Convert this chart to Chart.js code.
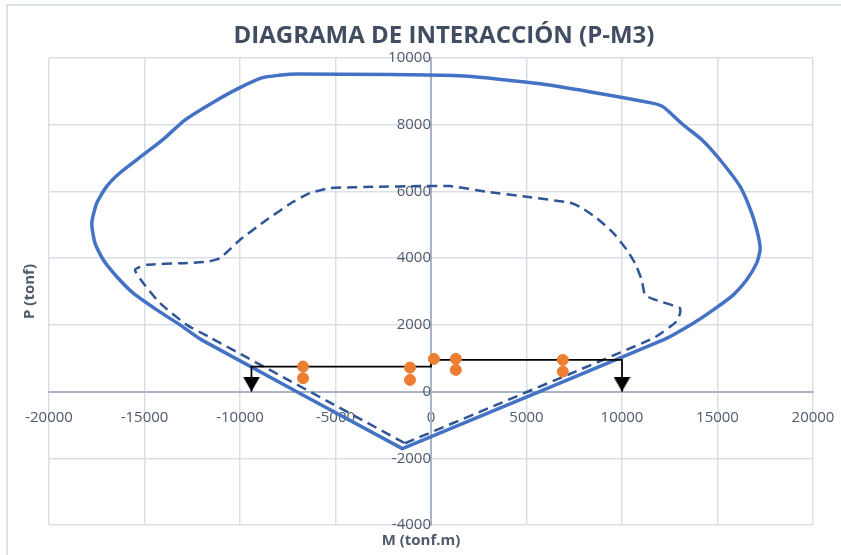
<!DOCTYPE html>
<html lang="es">
<head>
<meta charset="UTF-8">
<title>Diagrama de interacción (P-M3)</title>
<script src="https://cdn.jsdelivr.net/npm/chart.js@4.4.0/dist/chart.umd.min.js"></script>
<style>
    html, body {
        margin: 0;
        padding: 0;
        background: #fff;
        overflow: hidden;
    }
    .marco {
        position: absolute;
        left: 6px;
        top: 4px;
        width: 900px;
        height: 600px;
        border-left: 2px solid #dde2ea;
        border-top: 2px solid #dde2ea;
    }
    canvas {
        position: absolute;
        left: 0;
        top: 0;
    }
</style>
</head>
<body>

<div class="marco"></div>
<canvas id="grafico" width="841" height="555"></canvas>

<script>
    // Textos
    const titulo = 'DIAGRAMA DE INTERACCIÓN (P-M3)';
    const tituloM = 'M (tonf.m)';
    const tituloP = 'P (tonf)';

    // Ejes: límites y paso de las marcas
    const limitesM = [-20000, 20000];
    const pasoM = 5000;
    const limitesP = [-4000, 10000];
    const pasoP = 2000;

    // Curva nominal (línea continua)
    const momentoNominal = [-1500, 12160, 13730, 14780, 15830, 16530, 17050, 17230, 17140, 16790,
        16180, 15130, 14180, 13200, 12360, 12080, 11650, 8290, 5490, 1420,
        -7000, -7980, -8820, -10080, -11350, -12890, -14020, -15060, -16280, -16980,
        -17500, -17760, -17590, -17160, -16460, -15590, -14360, -13140, -12010, -1500];
    const cargaNominal = [-1710, 1550, 2050, 2450, 2900, 3350, 3850, 4250, 4650, 5350,
        6150, 6950, 7550, 8000, 8440, 8560, 8640, 8990, 9240, 9470,
        9520, 9480, 9410, 9090, 8690, 8140, 7560, 7100, 6560, 6150,
        5650, 5050, 4450, 3950, 3450, 2950, 2450, 2000, 1550, -1710];

    // Curva de diseño (línea discontinua)
    const momentoDiseno = [-1360, 11640, 12860, 13040, 13040, 11640, 11200, 11030, 10680, 10250,
        9550, 8680, 7800, 7280, 5010, 2920, 1000, -600, -2840, -5290,
        -6340, -7210, -8600, -10000, -11050, -11740, -12970, -14890, -15500, -15060,
        -14190, -12790, -11660, -1360];
    const cargaDiseno = [-1550, 1600, 2100, 2350, 2500, 2770, 2900, 3350, 3850, 4250,
        4750, 5200, 5540, 5660, 5840, 5990, 6160, 6160, 6140, 6100,
        5950, 5690, 5150, 4550, 4000, 3890, 3850, 3800, 3650, 3250,
        2650, 2000, 1650, -1550];

    // Línea negra con flechas
    const momentoFlecha = [-9400, -9400, 0, 0, 10000, 10000];
    const cargaFlecha = [0, 750, 750, 950, 950, 0];

    // Puntos de demanda
    const momentoDemanda = [-6700, -6700, -1100, -1100, 150, 1300, 1300, 6900, 6900];
    const cargaDemanda = [750, 400, 720, 350, 980, 980, 650, 950, 600];

    const colorTexto = '#4f5b6c';
    const colorGrid = '#dadfe7';
    const colorEje = '#a9b4c5';

    function puntos(m, p) {
        return m.map((x, i) => ({ x: x, y: p[i] }));
    }

    // Punta de flecha: el vértice queda en el centro de la imagen
    const punta = document.createElement('canvas');
    punta.width = 17;
    punta.height = 30;
    const pctx = punta.getContext('2d');
    pctx.fillStyle = '#000';
    pctx.beginPath();
    pctx.moveTo(0, 0);
    pctx.lineTo(17, 0);
    pctx.lineTo(8.5, 15);
    pctx.closePath();
    pctx.fill();

    // Título y títulos de ejes
    const textos = {
        id: 'textos',
        afterDraw(chart) {
            const { ctx, chartArea: a } = chart;
            const cx = (a.left + a.right) / 2;
            ctx.save();
            ctx.textAlign = 'center';
            ctx.textBaseline = 'middle';
            ctx.fillStyle = '#414e61';
            ctx.font = 'bold 24px "Open Sans"';
            ctx.fillText(titulo, cx + 13, 36);
            ctx.fillStyle = colorTexto;
            ctx.font = 'bold 15px "Open Sans"';
            ctx.fillText(tituloM, cx - 10, a.bottom + 16);
            ctx.translate(30, (a.top + a.bottom) / 2);
            ctx.rotate(-Math.PI / 2);
            ctx.fillText(tituloP, 0, 0);
            ctx.restore();
        }
    };

    function colorLinea(context) {
        return context.tick && context.tick.value === 0 ? colorEje : colorGrid;
    }

    function sinSeparador(value) {
        return String(value);
    }

    const chart = new Chart(document.getElementById('grafico'), {
        type: 'scatter',
        data: {
            datasets: [
                {
                    label: 'Demanda',
                    data: puntos(momentoDemanda, cargaDemanda),
                    backgroundColor: '#ed7d31',
                    borderColor: '#ed7d31',
                    pointRadius: 5.5,
                    showLine: false
                },
                {
                    label: 'Carga',
                    data: puntos(momentoFlecha, cargaFlecha),
                    borderColor: '#000',
                    borderWidth: 1.75,
                    showLine: true,
                    pointStyle: punta,
                    pointRadius: momentoFlecha.map((m, i) => (i === 0 || i === momentoFlecha.length - 1) ? 5 : 0)
                },
                {
                    label: 'Diseño',
                    data: puntos(momentoDiseno, cargaDiseno),
                    borderColor: '#2f5597',
                    borderWidth: 2.5,
                    borderDash: [10, 6],
                    tension: 0.15,
                    showLine: true,
                    pointRadius: 0
                },
                {
                    label: 'Nominal',
                    data: puntos(momentoNominal, cargaNominal),
                    borderColor: '#4472c4',
                    borderWidth: 3.5,
                    borderJoinStyle: 'round',
                    borderCapStyle: 'round',
                    tension: 0.2,
                    showLine: true,
                    pointRadius: 0
                }
            ]
        },
        options: {
            responsive: false,
            animation: false,
            layout: {
                padding: { left: 49, top: 58, right: 28, bottom: 30 }
            },
            plugins: {
                legend: { display: false },
                tooltip: { enabled: false }
            },
            scales: {
                x: {
                    type: 'linear',
                    position: { y: 0 },
                    min: limitesM[0],
                    max: limitesM[1],
                    ticks: {
                        stepSize: pasoM,
                        color: colorTexto,
                        padding: 0,
                        font: { family: 'Open Sans', size: 15 },
                        callback: sinSeparador
                    },
                    // marcas invisibles: sólo separan las etiquetas del eje
                    grid: {
                        color: colorLinea,
                        lineWidth: 1.5,
                        tickLength: 17,
                        tickColor: 'rgba(0,0,0,0)'
                    },
                    border: { color: colorEje, width: 2 }
                },
                y: {
                    type: 'linear',
                    position: { x: 0 },
                    min: limitesP[0],
                    max: limitesP[1],
                    ticks: {
                        stepSize: pasoP,
                        color: colorTexto,
                        padding: 0,
                        font: { family: 'Open Sans', size: 15 },
                        callback: sinSeparador
                    },
                    grid: {
                        color: colorLinea,
                        lineWidth: 1.5,
                        tickLength: 18,
                        tickColor: 'rgba(0,0,0,0)'
                    },
                    border: { color: colorEje, width: 2 }
                }
            }
        },
        plugins: [textos]
    });
</script>

</body>
</html>
